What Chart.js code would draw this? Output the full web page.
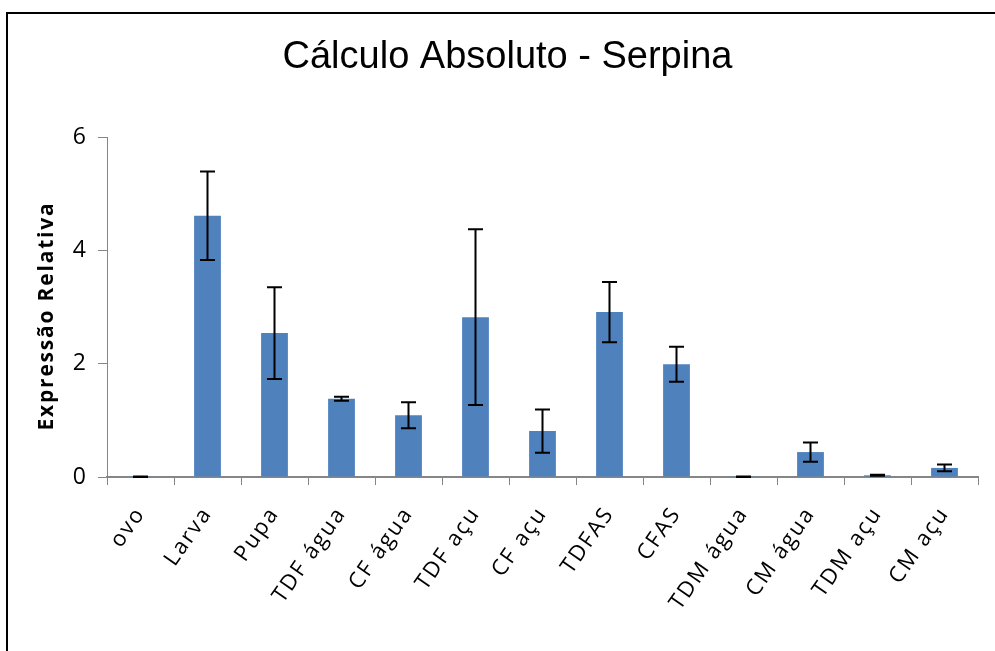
<!DOCTYPE html>
<html>
<head>
<meta charset="utf-8">
<script src="https://cdn.jsdelivr.net/npm/chart.js@4/dist/chart.umd.min.js"></script>
<style>
  html, body { margin: 0; padding: 0; background: #fff; }
  #wrap { width: 995px; height: 651px; position: relative; }
</style>
</head>
<body>
<div id="wrap"><canvas id="c" width="995" height="651"></canvas></div>
<script>
const categories = ['ovo', 'Larva', 'Pupa', 'TDF água', 'CF água', 'TDF açu', 'CF açu', 'TDFAS', 'CFAS', 'TDM água', 'CM água', 'TDM açu', 'CM açu'];
const values = [0.005, 4.61, 2.54, 1.38, 1.09, 2.82, 0.81, 2.91, 1.99, 0.005, 0.44, 0.03, 0.16];
const errors = [0.005, 0.78, 0.81, 0.035, 0.23, 1.55, 0.38, 0.53, 0.31, 0.005, 0.17, 0.01, 0.06];
const yTicks = [0, 2, 4, 6];

const framePlugin = {
  id: 'frame',
  beforeDraw(chart) {
    const ctx = chart.ctx;
    ctx.save();
    ctx.fillStyle = '#ffffff';
    ctx.fillRect(0, 0, chart.width, chart.height);
    ctx.strokeStyle = '#000000';
    ctx.lineWidth = 2;
    ctx.strokeRect(7, 13, 1100, 800);
    ctx.restore();
  }
};

// letter-spaced axis texts, as in the original
const spacingPlugin = {
  id: 'spacing',
  afterLayout(chart) {
    const sx = chart.scales.x, sy = chart.scales.y;
    if (sx && !sx._spaced) {
      const orig = sx.drawLabels;
      sx.drawLabels = function (a) {
        this.ctx.save(); this.ctx.letterSpacing = '2px';
        orig.call(this, a);
        this.ctx.restore();
      };
      sx._spaced = true;
    }
    if (sy && !sy._spaced) {
      const orig = sy.drawTitle;
      sy.drawTitle = function () {
        this.ctx.save(); this.ctx.letterSpacing = '1.8px'; this.ctx.translate(0, 9);
        orig.call(this);
        this.ctx.restore();
      };
      sy._spaced = true;
    }
  }
};

const errorBarPlugin = {
  id: 'errorBars',
  afterDatasetsDraw(chart) {
    const ctx = chart.ctx;
    const yScale = chart.scales.y;
    const meta = chart.getDatasetMeta(0);
    ctx.save();
    ctx.strokeStyle = '#000000';
    ctx.lineWidth = 2;
    meta.data.forEach((bar, i) => {
      const v = values[i], e = errors[i];
      const x = bar.x;
      const yTop = yScale.getPixelForValue(v + e);
      const yBot = yScale.getPixelForValue(Math.max(0, v - e));
      const cap = 7.5;
      ctx.beginPath();
      ctx.moveTo(x, yTop); ctx.lineTo(x, yBot);
      ctx.moveTo(x - cap, yTop); ctx.lineTo(x + cap, yTop);
      ctx.moveTo(x - cap, yBot); ctx.lineTo(x + cap, yBot);
      ctx.stroke();
    });
    ctx.restore();
  }
};

new Chart(document.getElementById('c'), {
  type: 'bar',
  data: {
    labels: categories,
    datasets: [{
      data: values,
      backgroundColor: '#4F81BD',
      borderWidth: 0,
      barPercentage: 0.4,
      categoryPercentage: 1.0
    }]
  },
  options: {
    responsive: false,
    animation: false,
    devicePixelRatio: 1,
    layout: { padding: { left: 37, right: 17, top: 0, bottom: 0 } },
    plugins: {
      legend: { display: false },
      tooltip: { enabled: false },
      title: {
        display: true,
        text: 'Cálculo Absoluto - Serpina',
        color: '#000000',
        font: { family: '"Liberation Sans", Arial, sans-serif', size: 38, weight: 'normal', lineHeight: 1.2 },
        padding: { top: 35, bottom: 56.4 }
      }
    },
    scales: {
      x: {
        afterFit(scale) { scale.height = 174; },
        grid: { display: true, drawOnChartArea: false, offset: true, tickLength: 8, color: '#868686', lineWidth: 1 },
        border: { display: true, color: '#868686', width: 2 },
        ticks: {
          color: '#000000',
          minRotation: 55, maxRotation: 55,
          autoSkip: false,
          padding: 17,
          font: { family: '"Open Sans", sans-serif', size: 22 }
        }
      },
      y: {
        min: 0, max: 6,
        afterFit(scale) { scale.width = 70; },
        afterBuildTicks(scale) { scale.ticks = yTicks.map(v => ({ value: v })); },
        grid: { display: true, drawOnChartArea: false, tickLength: 9, color: '#868686', lineWidth: 1 },
        border: { display: true, color: '#868686', width: 1 },
        ticks: {
          color: '#000000',
          padding: 12,
          font: { family: '"Open Sans", sans-serif', size: 23 }
        },
        title: {
          display: true,
          text: 'Expressão Relativa',
          color: '#000000',
          font: { family: '"Open Sans", sans-serif', size: 21, weight: 'bold', lineHeight: 1.0 },
          padding: { top: 0, bottom: 0 }
        }
      }
    }
  },
  plugins: [framePlugin, spacingPlugin, errorBarPlugin]
});
</script>
</body>
</html>
